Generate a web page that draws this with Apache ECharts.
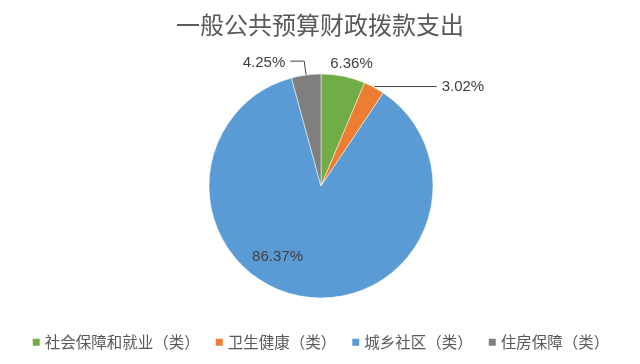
<!DOCTYPE html>
<html><head><meta charset="utf-8">
<script src="https://cdn.jsdelivr.net/npm/echarts@6/dist/echarts.min.js"></script>
<style>html,body{margin:0;padding:0;background:#fff}#c{width:640px;height:364px}</style>
</head><body><div id="c"></div>
<script>
const titleText = '一般公共预算财政拨款支出';
const categories = ['社会保障和就业（类）', '卫生健康（类）', '城乡社区（类）', '住房保障（类）'];
const values = [6.36, 3.02, 86.37, 4.25];
const colors = ['#70AD47', '#ED7D31', '#5B9BD5', '#7F7F7F'];

const labelOffsets = [[-20, -3], [0, 0], [-34, 13], [0, 2]];
const lineLens = [[10, 0], [1, 62], [0, 0], [14, 14]];

const chart = echarts.init(document.getElementById('c'));
chart.setOption({
  animation: false,
  backgroundColor: '#fff',
  title: {
    text: titleText, left: 'center', top: 8,
    textStyle: { fontFamily: 'Noto Sans CJK SC', fontSize: 24, fontWeight: 'normal', color: '#595959' }
  },
  legend: {
    bottom: 9, left: 'center', itemWidth: 9, itemHeight: 9, itemGap: 14,
    icon: 'rect',
    textStyle: { fontFamily: 'Noto Sans CJK SC', fontSize: 15.5, color: '#595959', padding: [0, 0, 0, -1] },
    data: categories
  },
  series: [{
    type: 'pie',
    center: [321, 186],
    radius: 112,
    startAngle: 90,
    clockwise: true,
    itemStyle: { borderColor: '#fff', borderWidth: 0.5 },
    label: {
      position: 'outside', fontFamily: 'Liberation Sans', fontSize: 15, color: '#404040',
      formatter: p => p.value.toFixed(2) + '%', distanceToLabelLine: 5
    },
    labelLine: { lineStyle: { color: '#404040', width: 1 } },
    labelLayout: p => ({ dx: labelOffsets[p.dataIndex][0], dy: labelOffsets[p.dataIndex][1] }),
    data: categories.map((c, i) => ({
      name: c, value: values[i], itemStyle: { color: colors[i] },
      label: i === 2 ? { position: 'inside' } : {},
      labelLine: { show: i === 1 || i === 3, length: lineLens[i][0], length2: lineLens[i][1] }
    }))
  }]
});
</script></body></html>
